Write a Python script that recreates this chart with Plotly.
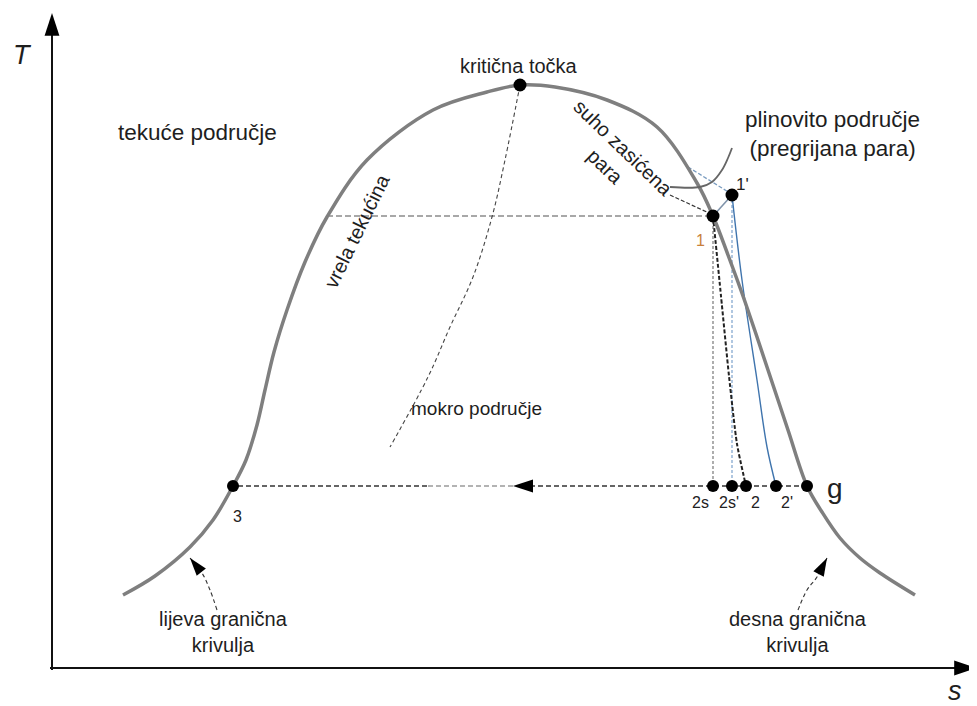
import plotly.graph_objects as go

# ---------------- data (s, T in schematic units) ----------------
dome_s = [123, 155, 190, 213, 233, 246, 257, 265, 274, 287, 305, 327, 367, 433, 487,
          520, 555, 607, 657, 697, 713, 728, 743, 758, 773, 788, 807, 822, 840, 860, 880, 915]
dome_T = [111, 130, 159, 186, 220, 246, 281, 316, 354, 396, 444, 489, 546, 596, 614,
          621, 619, 606, 579, 523, 490, 451, 410, 366, 321, 276, 220, 194, 168, 148, 133, 111]

crit_s, crit_T = [520], [621]

# dryness (quality) line from critical point
qual_s = [520, 505, 492, 473, 450, 428, 390]
qual_T = [621, 546, 489, 429, 379, 329, 259]

# upper isotherm (T1) from left boundary to point 1
T1 = 490
iso_s = [327, 713]

# state points
p1_s, p1_T = 713, 490
p1p_s, p1p_T = 732, 511
T_low = 220
bottom_names = ["3", "2s", "2s'", "2", "2'", "g"]
bottom_s = [233, 713, 732, 746, 776, 807]

# expansion lines
exp12_s = [713, 721, 729, 737, 746]
exp12_T = [490, 410, 330, 262, 220]
exp1p2p_s = [732, 742, 757, 767, 776]
exp1p2p_T = [511, 426, 326, 259, 220]

# condensation line arrow position and shading split
cond_arrow_s = 513
cond_light_s = 427

# leader of the superheated-region label
lead_s = [732, 728, 722, 712, 700, 670]
lead_T = [558, 548, 536, 524, 519, 519]
# dashed pointers
sat_ptr_s, sat_ptr_T = [670, 711], [511, 492]
sup_ptr_s, sup_ptr_T = [688, 730], [539, 513]

# boundary-curve pointer arrows
lb_s, lb_T = [217, 210, 202, 190], [96, 116, 133, 148]
rb_s, rb_T = [798, 807, 817, 827], [96, 116, 129, 148]

# axes
axis_T_s, axis_T_range = 52, [36, 693]
axis_s_T, axis_s_range = 38, [50, 977]

# text labels
lab_text = ["kritična točka", "tekuće područje", "plinovito područje<br>(pregrijana para)",
            "suho zasićena<br>para", "vrela tekućina", "mokro područje",
            "lijeva granična<br>krivulja", "desna granična<br>krivulja",
            "<i>T</i>", "<i>s</i>"]
lab_s = [519, 197, 832, 614, 357, 476, 223, 798, 22, 955]
lab_T = [640, 574, 572, 549, 475, 298, 74, 74, 651, 15]
lab_size = [20, 22.5, 22.5, 20, 20, 19, 20, 20, 27, 27]
lab_angle = [0, 0, 0, 44, -64, 0, 0, 0, 0, 0]

pt_lab_text = ["1", "1'", "3", "2s", "2s'", "2", "2'", "g"]
pt_lab_s = [700, 742, 237, 700, 729, 755, 787, 835]
pt_lab_T = [466, 522, 190, 204, 204, 204, 204, 218]
pt_lab_size = [16, 17, 16, 16, 16, 16, 16, 28]
pt_lab_color = ["#c8803c", "#222", "#222", "#222", "#222", "#222", "#222", "#222"]

FONT = "Liberation Sans, Arial, sans-serif"
PAGE_OFFSET = 8  # default body margin of the html page

fig = go.Figure()


def line(xs, ys, color, width, dash=None, shape="linear", smoothing=1.0):
    fig.add_trace(go.Scatter(x=xs, y=ys, mode="lines", hoverinfo="skip",
                             line=dict(color=color, width=width, dash=dash,
                                       shape=shape, smoothing=smoothing),
                             showlegend=False, cliponaxis=False))


def arrow_line(xs, ys, color, width, head, dash=None, shape="linear", head_color=None):
    sizes = [0] * (len(xs) - 1) + [head]
    fig.add_trace(go.Scatter(x=xs, y=ys, mode="lines+markers", hoverinfo="skip",
                             line=dict(color=color, width=width, dash=dash, shape=shape),
                             marker=dict(symbol="arrow", size=sizes, opacity=1,
                                         color=head_color or color,
                                         angleref="previous", line=dict(width=0)),
                             showlegend=False, cliponaxis=False))


# axes
arrow_line([axis_T_s, axis_T_s], axis_T_range, "#111111", 2, 24, head_color="#000000")
arrow_line(axis_s_range, [axis_s_T, axis_s_T], "#111111", 2, 24, head_color="#000000")

# upper isotherm
line(iso_s, [T1, T1], "#8c8c8c", 1.6, dash="6px,3px")
# quality line
line(qual_s, qual_T, "#444444", 1.1, dash="4px,3px", shape="spline")

# condensation line (g -> 3) with arrow
arrow_line([bottom_s[-1], cond_arrow_s], [T_low, T_low], "#333333", 1.6, 21,
           dash="5px,3px", head_color="#000000")
line([cond_arrow_s, cond_light_s], [T_low, T_low], "#9a9a9a", 1.6, dash="5px,3px")
line([cond_light_s, bottom_s[0]], [T_low, T_low], "#333333", 1.6, dash="5px,3px")

# verticals / expansions
line([p1_s, bottom_s[1]], [p1_T, T_low], "#9a9a9a", 1.6, dash="3px,2px")
line([p1p_s, bottom_s[2]], [p1p_T, T_low], "#8fb0d4", 1.4, dash="3px,2px")
line(exp12_s, exp12_T, "#222222", 2, dash="4px,2px", shape="spline", smoothing=0.6)
line(exp1p2p_s, exp1p2p_T, "#3f74ad", 1.4, shape="spline")

# superheating 1 -> 1'
line([p1_s, p1p_s], [p1_T, p1p_T], "#7f93aa", 1.6)
line(sup_ptr_s, sup_ptr_T, "#7a9cc0", 1.3, dash="4px,2px")
line(sat_ptr_s, sat_ptr_T, "#333333", 1.2, dash="4px,2px")

# saturation dome
line(dome_s, dome_T, "#7f7f7f", 3.5, shape="spline", smoothing=1.0)

# leader for superheated label
line(lead_s, lead_T, "#666666", 1.8, shape="spline")

# boundary pointers
arrow_line(lb_s, lb_T, "#333333", 1.1, 19, dash="4px,3px", shape="spline", head_color="#000000")
arrow_line(rb_s, rb_T, "#333333", 1.1, 19, dash="4px,3px", shape="spline", head_color="#000000")

# points
fig.add_trace(go.Scatter(x=crit_s + [p1_s, p1p_s] + bottom_s,
                         y=crit_T + [p1_T, p1p_T] + [T_low] * len(bottom_s),
                         mode="markers", hoverinfo="skip", showlegend=False,
                         marker=dict(color="#000000", size=[13, 13, 13] + [12] * len(bottom_s),
                                     opacity=1, line=dict(width=0)),
                         cliponaxis=False))

annotations = []
for t, x, y, sz, ang in zip(lab_text, lab_s, lab_T, lab_size, lab_angle):
    annotations.append(dict(text=t, x=x, y=y, xref="x", yref="y", showarrow=False,
                            textangle=ang, font=dict(family=FONT, size=sz, color="#1e1e1e")))
for t, x, y, sz, c in zip(pt_lab_text, pt_lab_s, pt_lab_T, pt_lab_size, pt_lab_color):
    annotations.append(dict(text=t, x=x, y=y, xref="x", yref="y", showarrow=False,
                            font=dict(family=FONT, size=sz, color=c)))

fig.update_layout(
    width=977 - PAGE_OFFSET, height=706 - PAGE_OFFSET,
    margin=dict(l=0, r=0, t=0, b=0),
    paper_bgcolor="white", plot_bgcolor="white",
    xaxis=dict(range=[PAGE_OFFSET, 977], visible=False, fixedrange=True),
    yaxis=dict(range=[0, 706 - PAGE_OFFSET], visible=False, fixedrange=True),
    annotations=annotations,
    showlegend=False,
)

fig.write_html("out.html")
